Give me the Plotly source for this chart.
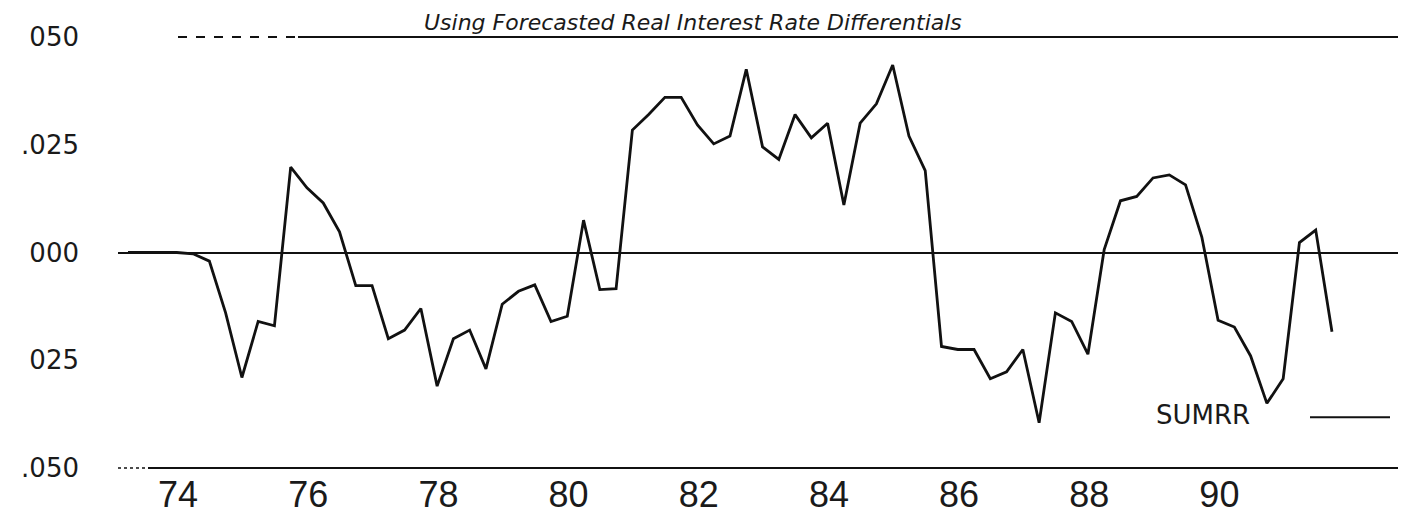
import plotly.graph_objects as go

# ---- data (quarterly) ----
start_year = 1973.25
sumrr = [0.0, 0.0, 0.0, 0.0, -0.0003, -0.002, -0.014, -0.029, -0.016, -0.017,
         0.0198, 0.015, 0.0115, 0.0048, -0.0077, -0.0077, -0.020, -0.018, -0.013, -0.031,
         -0.020, -0.018, -0.027, -0.012, -0.009, -0.0075, -0.016, -0.0148, 0.0075, -0.0086,
         -0.0084, 0.0284, 0.032, 0.036, 0.036, 0.0296, 0.0252, 0.027, 0.0425, 0.0245,
         0.0216, 0.032, 0.0266, 0.030, 0.011, 0.030, 0.0345, 0.0435, 0.027, 0.019,
         -0.0218, -0.0225, -0.0225, -0.0293, -0.0277, -0.0225, -0.0395, -0.014, -0.016, -0.0236,
         0.0007, 0.012, 0.013, 0.0173, 0.018, 0.0157, 0.0036, -0.0157, -0.0173, -0.024,
         -0.035, -0.0293, 0.0023, 0.0052, -0.0184]
quarters = [start_year + 0.25 * i for i in range(len(sumrr))]

x_tick_years = [1974, 1976, 1978, 1980, 1982, 1984, 1986, 1988, 1990]
x_tick_labels = ["74", "76", "78", "80", "82", "84", "86", "88", "90"]
y_tick_vals = [0.05, 0.025, 0.0, -0.025, -0.05]
y_tick_labels = ["050", ".025", "000", "025", ".050"]

title_text = "Using Forecasted Real Interest Rate Differentials"
series_name = "SUMRR"

# ---- layout geometry ----
W, H = 1406, 518
L, R, T, B = 110, 1395, 29, 463


def px_x(p):
    return (p - L) / (R - L)


def px_y(p):
    return (B - p) / (B - T)


fig = go.Figure()
fig.add_trace(go.Scatter(
    x=quarters, y=sumrr, mode="lines", name=series_name,
    line=dict(color="#111111", width=2.8), showlegend=False,
))

label_font = dict(family="DejaVu Sans", size=26, color="#1a1a1a")
xlab_font = dict(family="Liberation Sans, Arial, sans-serif", size=36, color="#1a1a1a")

fig.update_layout(
    width=W, height=H,
    margin=dict(l=L, r=W - R, t=T, b=H - B, pad=0),
    paper_bgcolor="white", plot_bgcolor="white",
    showlegend=False,
    xaxis=dict(
        range=[1973.25 - 10 / 65.08, 1973.25 + (R - 120) / 65.08],
        tickvals=[y + 0.02 for y in x_tick_years], ticktext=x_tick_labels,
        tickfont=xlab_font, showgrid=False, zeroline=False,
        showline=False, ticks="", ticklabelstandoff=2,
    ),
    yaxis=dict(
        range=[-0.05, 0.05],
        tickvals=y_tick_vals, ticktext=y_tick_labels,
        tickfont=label_font, showgrid=False,
        zeroline=True, zerolinecolor="#111111", zerolinewidth=2,
        showline=False, ticks="", ticklabelstandoff=38,
    ),
)

frame = dict(color="#111111", width=2)
shapes = [
    # bottom line: dotted start then solid
    dict(type="line", xref="paper", yref="paper", x0=px_x(110), x1=px_x(140), y0=0, y1=0,
         line=dict(color="#111111", width=1.5, dash="dot")),
    dict(type="line", xref="paper", yref="paper", x0=px_x(140), x1=1, y0=0, y1=0, line=frame),
    # top line: dashed start then solid
    dict(type="line", xref="paper", yref="paper", x0=px_x(170), x1=px_x(290), y0=1, y1=1,
         line=dict(color="#111111", width=2, dash="dash")),
    dict(type="line", xref="paper", yref="paper", x0=px_x(290), x1=1, y0=1, y1=1, line=frame),
    # right border
    dict(type="line", xref="paper", yref="paper", x0=1, x1=1, y0=0, y1=1, line=frame),
    # legend sample line
    dict(type="line", xref="paper", yref="paper", x0=px_x(1302), x1=px_x(1382),
         y0=px_y(412), y1=px_y(412), line=dict(color="#111111", width=2)),
]
fig.update_layout(shapes=shapes)

fig.add_annotation(
    text=series_name, xref="paper", yref="paper", x=px_x(1195), y=px_y(410),
    xanchor="center", yanchor="middle", showarrow=False,
    font=dict(family="DejaVu Sans", size=26, color="#1a1a1a"),
)
fig.add_annotation(
    text="<i>" + title_text + "</i>", xref="paper", yref="paper",
    x=px_x(685), y=px_y(1), xanchor="center", yanchor="top", showarrow=False,
    borderpad=0,
    font=dict(family="DejaVu Sans", size=22, color="#1a1a1a"),
)

fig.write_html("out.html")
